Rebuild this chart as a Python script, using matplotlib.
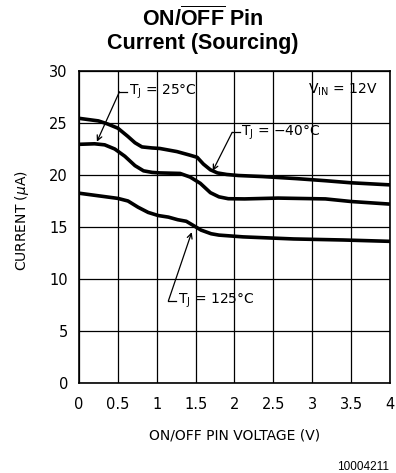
import matplotlib
matplotlib.use("Agg")
import matplotlib.pyplot as plt

# ON/OFF pin sourcing current vs. pin voltage, three junction temperatures
volts_m40 = [0.0, 0.25, 0.37, 0.5, 0.63, 0.72, 0.81, 0.94, 1.04, 1.26, 1.43, 1.52, 1.6,
             1.69, 1.78, 1.9, 2.05, 2.36, 2.8, 3.17, 3.5, 4.0]
amps_m40 = [25.45, 25.2, 24.9, 24.5, 23.7, 23.1, 22.7, 22.6, 22.55, 22.25, 21.9, 21.7, 21.05,
            20.5, 20.2, 20.05, 19.95, 19.85, 19.65, 19.45, 19.25, 19.05]

volts_25 = [0.0, 0.2, 0.33, 0.46, 0.59, 0.72, 0.83, 0.94, 1.04, 1.3, 1.43, 1.56, 1.69,
            1.8, 1.92, 2.13, 2.56, 3.17, 3.5, 4.0]
amps_25 = [22.95, 23.0, 22.9, 22.5, 21.8, 20.9, 20.4, 20.25, 20.2, 20.15, 19.8, 19.2, 18.3,
           17.9, 17.72, 17.7, 17.78, 17.7, 17.45, 17.2]

volts_125 = [0.0, 0.25, 0.5, 0.63, 0.76, 0.89, 1.02, 1.15, 1.27, 1.38, 1.47, 1.57, 1.7,
             1.8, 2.11, 2.76, 3.4, 4.0]
amps_125 = [18.25, 18.0, 17.75, 17.5, 16.9, 16.4, 16.1, 15.95, 15.7, 15.55, 15.15, 14.7, 14.35,
            14.22, 14.05, 13.85, 13.75, 13.62]

x_ticks = [0, 0.5, 1, 1.5, 2, 2.5, 3, 3.5, 4]
x_tick_labels = ['0', '0.5', '1', '1.5', '2', '2.5', '3', '3.5', '4']
y_ticks = [0, 5, 10, 15, 20, 25, 30]

# label text, leader corner, arrow tip
callouts = [
    (r'T$_{\mathregular{J}}$ = 25°C', (0.52, 28.0), (0.23, 23.2)),
    (r'T$_{\mathregular{J}}$ = $-$40°C', (1.97, 24.1), (1.72, 20.4)),
    (r'T$_{\mathregular{J}}$ = 125°C', (1.15, 7.9), (1.45, 14.5)),
]

plt.rcParams['mathtext.fontset'] = 'custom'
plt.rcParams['mathtext.bf'] = 'Liberation Sans:bold'
plt.rcParams['mathtext.rm'] = 'DejaVu Sans'
plt.rcParams['mathtext.it'] = 'DejaVu Sans:italic'

fig = plt.figure(figsize=(3.96, 4.73), dpi=100, facecolor='white')
ax = fig.add_axes([0.1995, 0.1903, 0.7853, 0.6596])

line_kw = dict(color='black', linewidth=2.6, solid_capstyle='butt',
               solid_joinstyle='round', zorder=3)
ax.plot(volts_m40, amps_m40, **line_kw)
ax.plot(volts_25, amps_25, **line_kw)
ax.plot(volts_125, amps_125, **line_kw)

ax.set_xlim(0, 4)
ax.set_ylim(0, 30)
ax.set_xticks(x_ticks)
ax.set_xticklabels(x_tick_labels)
ax.set_yticks(y_ticks)
ax.grid(True, color='black', linewidth=0.9)
ax.tick_params(length=0, labelsize=10.5)
ax.tick_params(axis='x', pad=10)
ax.tick_params(axis='y', pad=8)
for s in ax.spines.values():
    s.set_linewidth(1.2)

text_kw = dict(fontsize=10, color='black', va='center', ha='left', zorder=4)
for label, corner, tip in callouts:
    cx, cy = corner
    ax.plot([cx, cx + 0.1], [cy, cy], color='black', linewidth=0.9, zorder=4)
    ax.annotate('', xy=tip, xytext=corner,
                arrowprops=dict(arrowstyle='->', color='black', lw=0.9,
                                shrinkA=0, shrinkB=0, mutation_scale=9),
                zorder=4)
    ax.text(cx + 0.12, cy, label, **text_kw)

ax.text(2.95, 28.2, r'V$_{\mathregular{IN}}$ = 12V', **text_kw)

ax.set_xlabel('ON/OFF PIN VOLTAGE (V)', fontsize=10, labelpad=12)

fig.text(22.5 / 396, 1 - 221 / 473, r'CURRENT ($\mu$A)', rotation=90,
         fontsize=10, ha='center', va='center')

fig.text(203 / 396, 1 - 19 / 473, r'ON/$\overline{\mathbf{OFF}}$ Pin',
         fontsize=15.5, fontweight='bold', family='Liberation Sans',
         ha='center', va='center')
fig.text(203 / 396, 1 - 43 / 473, 'Current (Sourcing)',
         fontsize=15.5, fontweight='bold', family='Liberation Sans',
         ha='center', va='center')

fig.text(389 / 396, 1 - 467 / 473, '10004211', fontsize=8.5,
         family='Liberation Sans', ha='right', va='center')

fig.savefig('out.png', dpi=100, facecolor='white')
